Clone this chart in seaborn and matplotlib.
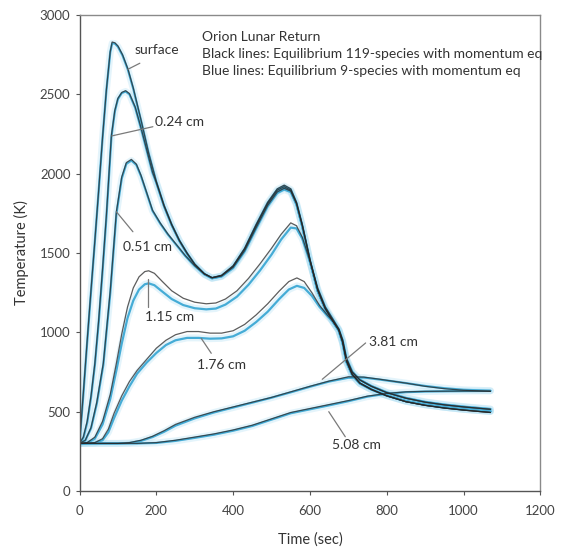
import pandas as pd
import numpy as np
import matplotlib
matplotlib.use("Agg")
import matplotlib.pyplot as plt
import seaborn as sns

# Orion Lunar Return - in-depth temperature histories
# black = equilibrium 119-species, blue = equilibrium 9-species (both with momentum eq)

depths = ["surface", "0.24 cm", "0.51 cm", "1.15 cm", "1.76 cm", "3.81 cm", "5.08 cm"]

t_surface = [0, 10, 20, 30, 40, 50, 60, 70, 80, 85, 92, 100, 112, 126, 140, 160, 180, 200, 220, 240,
             260, 280, 300, 325, 345, 370, 400, 430, 460, 490, 515, 533, 550, 565, 580, 600, 620, 640, 660, 675,
             685, 695, 710, 730, 760, 800, 850, 900, 950, 1000, 1070]
T_surface_black = [300, 620, 950, 1270, 1580, 1900, 2230, 2530, 2770, 2830, 2825, 2805, 2750, 2660, 2540, 2340, 2130, 1950, 1800, 1680,
                   1580, 1500, 1430, 1370, 1345, 1360, 1420, 1530, 1680, 1820, 1905, 1928, 1905, 1820, 1680, 1460, 1270, 1150, 1070, 1015,
                   940, 820, 735, 680, 640, 600, 563, 540, 523, 510, 495]
T_surface_blue = [300, 610, 940, 1260, 1575, 1895, 2225, 2525, 2765, 2822, 2820, 2800, 2745, 2655, 2535, 2335, 2128, 1948, 1798, 1678,
                  1578, 1498, 1428, 1368, 1342, 1356, 1415, 1525, 1676, 1816, 1900, 1922, 1900, 1815, 1672, 1450, 1262, 1145, 1066, 1012,
                  935, 815, 732, 678, 640, 602, 566, 544, 528, 515, 502]

t_024 = [0, 10, 20, 30, 40, 50, 60, 70, 83, 92, 100, 110, 120, 130, 145, 160, 175, 190, 200, 220,
         240, 260, 280, 300, 325, 345, 370, 400, 430, 460, 490, 515, 533, 550, 565, 580, 600, 620, 640, 660,
         675, 685, 695, 710, 730, 760, 800, 850, 900, 950, 1000, 1070]
T_024_black = [300, 340, 440, 600, 806, 1080, 1400, 1740, 2240, 2400, 2475, 2512, 2523, 2505, 2420, 2290, 2150, 2010, 1945, 1798,
               1678, 1578, 1498, 1428, 1368, 1344, 1358, 1416, 1526, 1674, 1812, 1896, 1918, 1896, 1814, 1674, 1456, 1268, 1150, 1070,
               1015, 940, 820, 735, 680, 640, 600, 563, 540, 523, 510, 495]
T_024_blue = [300, 335, 430, 590, 795, 1065, 1385, 1725, 2230, 2392, 2470, 2508, 2518, 2500, 2415, 2286, 2146, 2006, 1942, 1795,
              1675, 1576, 1496, 1426, 1366, 1341, 1354, 1412, 1520, 1668, 1806, 1890, 1912, 1890, 1808, 1667, 1450, 1262, 1146, 1066,
              1012, 935, 815, 732, 678, 640, 602, 566, 544, 528, 515, 502]

t_051 = [0, 15, 30, 45, 62, 80, 96, 110, 122, 135, 148, 160, 175, 190, 210, 230, 250, 275, 300, 325,
         345, 370, 400, 430, 460, 490, 515, 533, 550, 565, 580, 600, 620, 640, 660, 675, 685, 695, 710, 730,
         760, 800, 850, 900, 950, 1000, 1070]
T_051_black = [300, 320, 400, 560, 806, 1260, 1760, 1980, 2070, 2090, 2060, 1990, 1880, 1770, 1690, 1620, 1560, 1485, 1420, 1368,
               1343, 1355, 1410, 1515, 1660, 1800, 1885, 1908, 1890, 1810, 1675, 1455, 1268, 1150, 1072, 1015, 940, 820, 735, 680,
               640, 600, 563, 540, 523, 510, 495]
T_051_blue = [300, 318, 395, 550, 795, 1245, 1745, 1970, 2062, 2083, 2055, 1985, 1876, 1766, 1686, 1617, 1557, 1482, 1418, 1366,
              1341, 1352, 1405, 1510, 1654, 1794, 1878, 1900, 1884, 1804, 1668, 1450, 1262, 1146, 1068, 1012, 935, 815, 732, 678,
              640, 602, 566, 544, 528, 515, 502]

t_115 = [0, 20, 40, 60, 80, 96, 110, 125, 140, 155, 170, 180, 195, 215, 240, 270, 300, 330, 355, 380,
         410, 440, 470, 500, 525, 550, 565, 580, 600, 620, 640, 660, 675, 685, 695, 710, 730, 760, 800, 850,
         900, 950, 1000, 1070]
T_115_black = [300, 305, 340, 440, 610, 806, 990, 1160, 1280, 1350, 1383, 1388, 1372, 1322, 1262, 1215, 1190, 1180, 1185, 1210,
               1262, 1340, 1432, 1530, 1618, 1690, 1672, 1600, 1450, 1280, 1160, 1082, 1022, 952, 835, 750, 700, 660, 620, 585,
               560, 543, 530, 515]
T_115_blue = [300, 303, 330, 420, 580, 760, 930, 1090, 1200, 1270, 1303, 1309, 1297, 1258, 1210, 1172, 1152, 1145, 1150, 1175,
              1225, 1300, 1390, 1490, 1585, 1660, 1655, 1590, 1445, 1275, 1158, 1080, 1020, 950, 835, 752, 702, 662, 622, 587,
              562, 545, 532, 517]

t_176 = [0, 40, 60, 75, 90, 110, 130, 150, 175, 200, 225, 250, 280, 310, 340, 370, 400, 430, 460, 490,
         520, 545, 566, 585, 605, 625, 645, 660, 675, 685, 695, 710, 730, 760, 800, 850, 900, 950, 1000, 1070]
T_176_black = [300, 305, 330, 390, 490, 600, 690, 760, 830, 900, 950, 985, 1005, 1005, 995, 995, 1010, 1050, 1110, 1180,
               1260, 1320, 1343, 1320, 1250, 1170, 1110, 1070, 1020, 952, 835, 750, 700, 660, 620, 585, 560, 543, 530, 515]
T_176_blue = [300, 303, 320, 370, 460, 570, 660, 740, 810, 870, 920, 950, 965, 965, 960, 962, 975, 1010, 1065, 1130,
              1210, 1270, 1293, 1280, 1230, 1160, 1105, 1066, 1016, 948, 832, 750, 700, 660, 620, 585, 560, 543, 530, 515]

t_381 = [0, 100, 130, 160, 190, 220, 250, 300, 350, 400, 450, 500, 550, 600, 650, 700, 740, 780, 850, 900,
         950, 1000, 1070]
T_381_black = [300, 300, 305, 320, 345, 380, 420, 465, 500, 530, 560, 590, 625, 660, 693, 720, 718, 705, 680, 660,
               645, 635, 628]
T_381_blue = [300, 300, 303, 316, 340, 373, 412, 458, 495, 526, 557, 588, 622, 657, 690, 714, 715, 703, 680, 662,
              648, 638, 632]

t_508 = [0, 150, 200, 250, 300, 350, 400, 450, 500, 550, 600, 650, 700, 750, 800, 850, 900, 1000, 1070]
T_508_black = [300, 300, 305, 320, 340, 360, 385, 415, 455, 495, 520, 545, 570, 598, 615, 625, 628, 630, 630]
T_508_blue = [300, 300, 303, 316, 335, 355, 380, 410, 450, 490, 515, 540, 566, 595, 613, 623, 627, 630, 631]

times = [t_surface, t_024, t_051, t_115, t_176, t_381, t_508]
black = [T_surface_black, T_024_black, T_051_black, T_115_black, T_176_black, T_381_black, T_508_black]
blue = [T_surface_blue, T_024_blue, T_051_blue, T_115_blue, T_176_blue, T_381_blue, T_508_blue]

rows = []
for d, t, tb, tl in zip(depths, times, black, blue):
    for a, b in zip(t, tb):
        rows.append((d, "119-species", a, b))
    for a, b in zip(t, tl):
        rows.append((d, "9-species", a, b))
df = pd.DataFrame(rows, columns=["depth", "model", "time", "temp"])
df_black = df[df.model == "119-species"]
df_blue = df[df.model == "9-species"]

# label text position, leader start, leader end (data units)
labels = {
    "surface": ((144, 2780), (157, 2696), (126, 2658)),
    "0.24 cm": ((196, 2326), (191, 2296), (84, 2238)),
    "0.51 cm": ((113, 1540), (139, 1634), (96, 1760)),
    "1.15 cm": ((170, 1099), (178, 1162), (178, 1335)),
    "1.76 cm": ((307, 794), (343, 868), (317, 962)),
    "3.81 cm": ((753, 941), (745, 933), (632, 704)),
    "5.08 cm": ((657, 290), (692, 342), (649, 500)),
}

sns.set_style("white")
plt.rcParams['font.family'] = ['Lato', 'DejaVu Sans']

fig = plt.figure(figsize=(5.62, 5.54), dpi=100)
ax = fig.add_axes([0.1415, 0.1137, 0.820, 0.8592])

# soft glow behind the blue lines
sns.lineplot(data=df_blue, x="time", y="temp", units="depth", estimator=None,
             color="#a6dcf2", lw=5, alpha=0.3, ax=ax, legend=False)
sns.lineplot(data=df_blue, x="time", y="temp", units="depth", estimator=None,
             color="#45acd6", lw=1.6, ax=ax, legend=False)
sns.lineplot(data=df_black, x="time", y="temp", units="depth", estimator=None,
             color="#262626", lw=0.9, alpha=0.75, ax=ax, legend=False)

for name, (txt, p0, p1) in labels.items():
    ax.plot([p0[0], p1[0]], [p0[1], p1[1]], color="#7a7a7a", lw=0.9)
    ax.text(txt[0], txt[1], name, fontsize=10, color="#333333", va="center", ha="left")

ax.text(320, 2862, "Orion Lunar Return", fontsize=10, color="#333333", va="center")
ax.text(320, 2754, "Black lines: Equilibrium 119-species with momentum eq", fontsize=10, color="#333333", va="center")
ax.text(320, 2647, "Blue lines: Equilibrium 9-species with momentum eq", fontsize=10, color="#333333", va="center")

ax.set_xlim(0, 1200)
ax.set_ylim(0, 3000)
ax.set_xticks(np.arange(0, 1201, 200))
ax.set_yticks(np.arange(0, 3001, 500))
ax.tick_params(axis="both", direction="out", length=3, width=0.8, color="#555555",
               labelsize=9.5, labelcolor="#444444", bottom=True, left=True)
ax.tick_params(axis="x", pad=7)
for s in ax.spines.values():
    s.set_color("#8a8a8a")
    s.set_linewidth(1.0)
ax.spines["left"].set_color("#555555")
ax.spines["bottom"].set_color("#555555")
ax.set_xlabel("Time (sec)", fontsize=10.5, color="#333333", labelpad=11)
ax.set_ylabel("Temperature (K)", fontsize=10.5, color="#333333", labelpad=8)

fig.savefig("out.png", dpi=100)
